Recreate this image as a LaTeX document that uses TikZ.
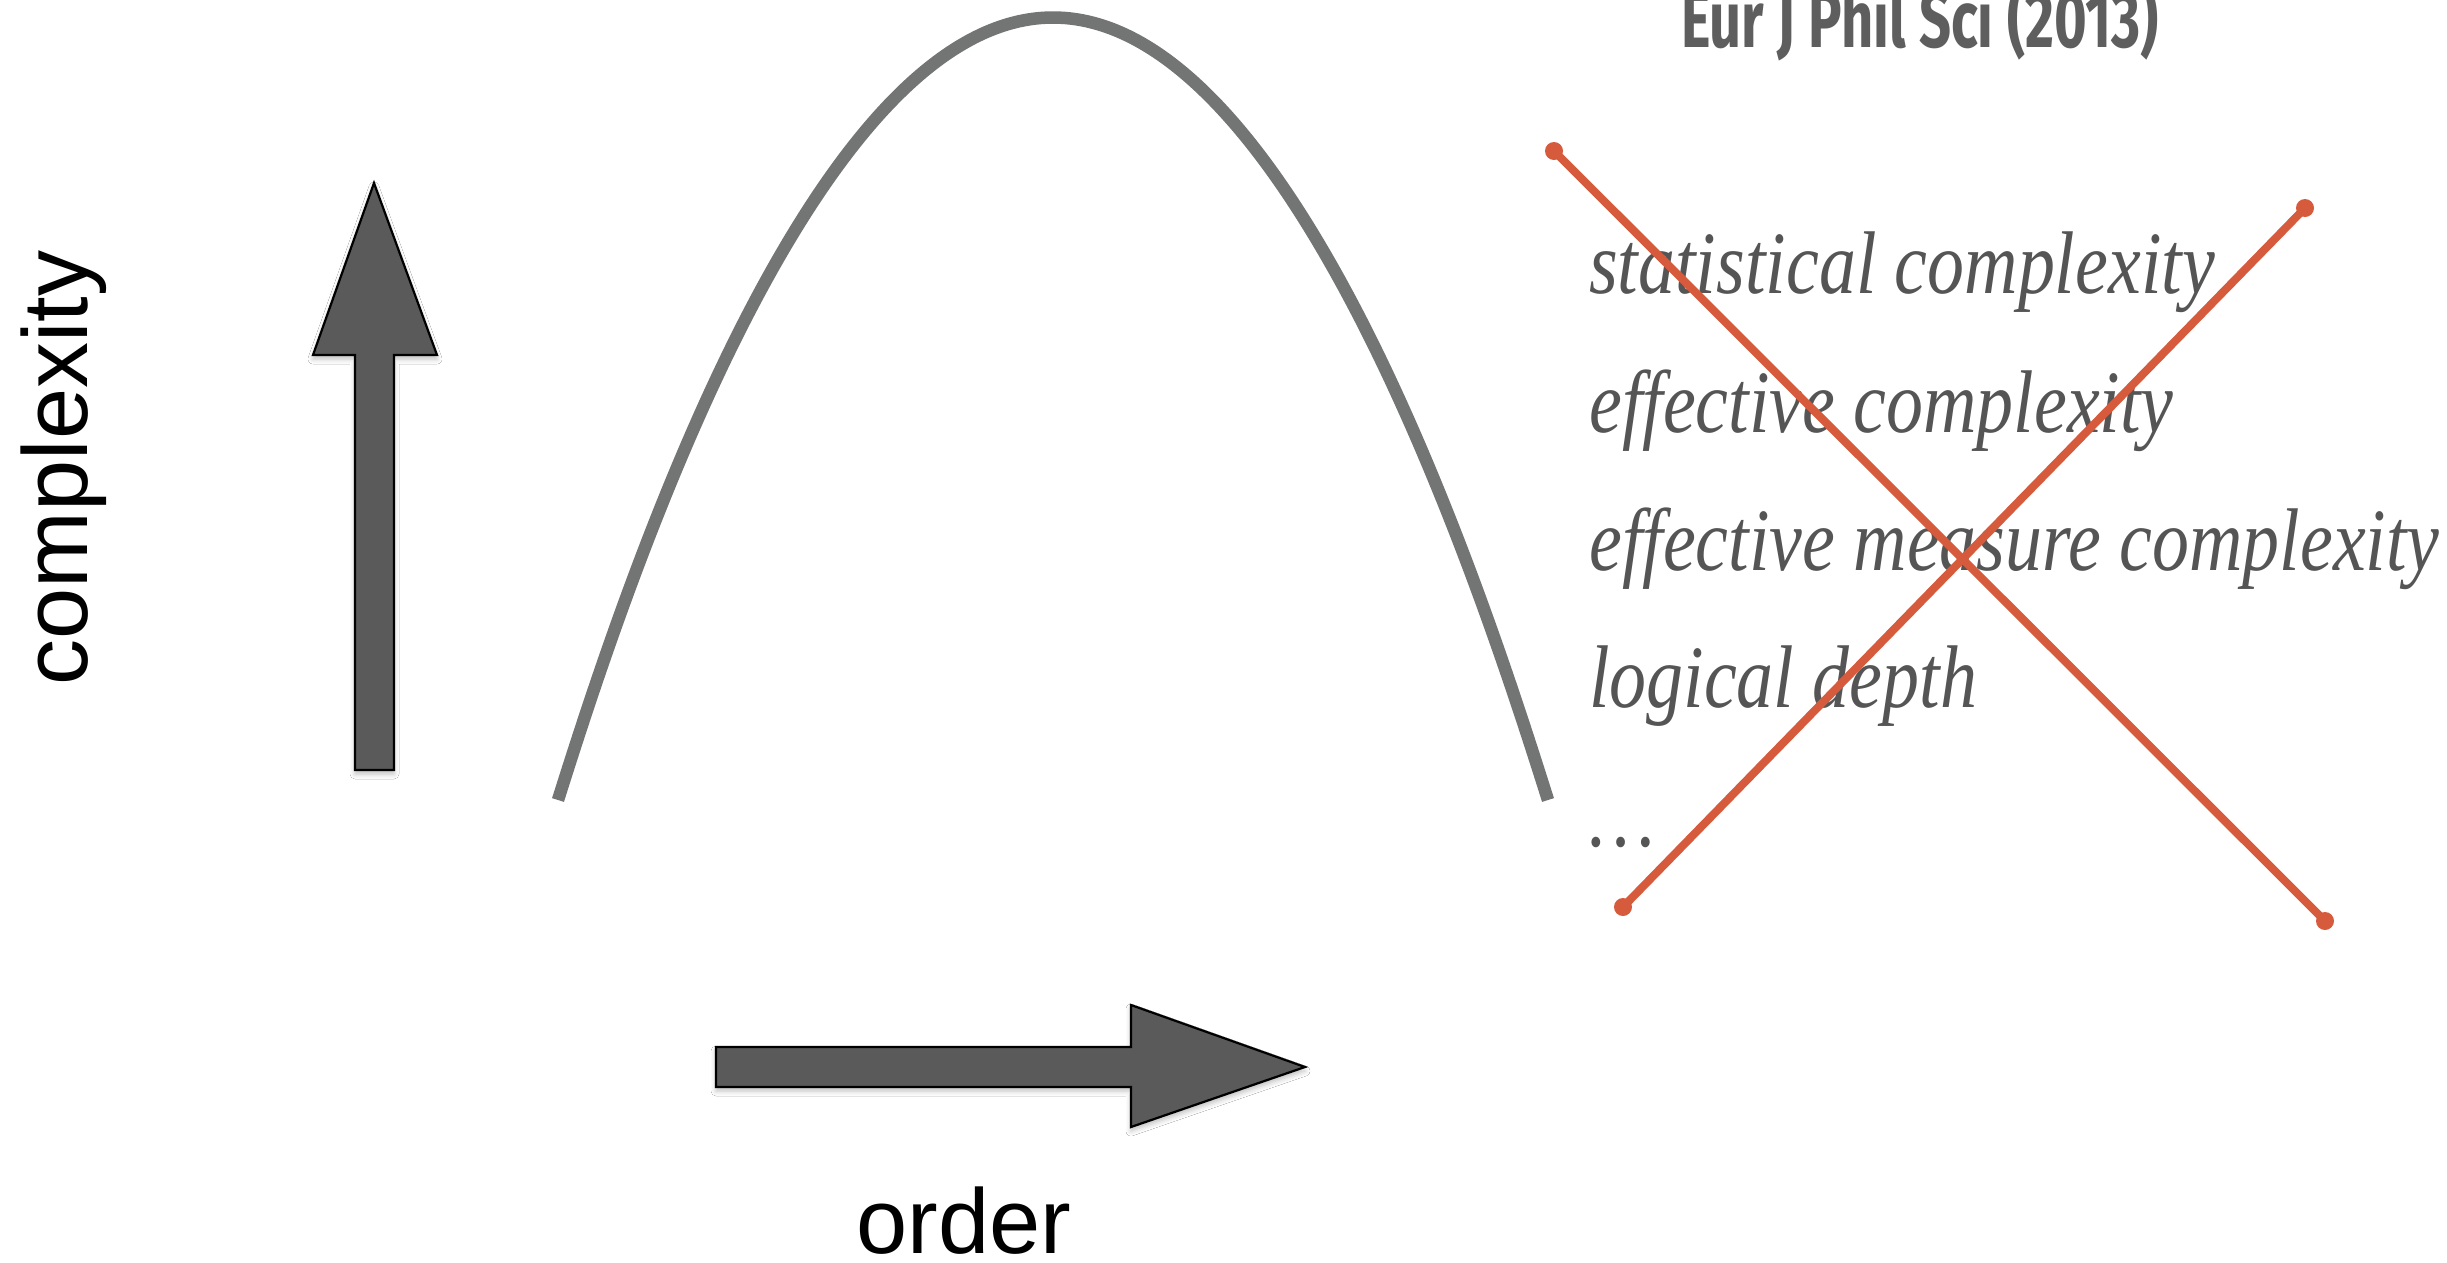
\documentclass[tikz,border=0pt]{standalone}
\usepackage{fontspec}
\setmainfont{Liberation Serif}
\newfontfamily\labelfont{Liberation Sans}
\newfontfamily\itfont[FakeStretch=0.83]{Liberation Serif}
\newfontfamily\condfont[FakeStretch=0.7]{Fira Sans}
\usetikzlibrary{shadows.blur}
\definecolor{arrowfill}{HTML}{5A5A5A}
\definecolor{curvegray}{HTML}{737574}
\definecolor{textgray}{HTML}{555555}
\definecolor{journalgray}{HTML}{5E5E5E}
\definecolor{crossred}{HTML}{D65A3C}
\begin{document}
\begin{tikzpicture}[x=1pt,y=-1pt,
  fatarrow/.style={fill=arrowfill,draw=black,line width=2.2pt,line join=miter,
    blur shadow={shadow xshift=0pt,shadow yshift=-4pt,shadow blur radius=5pt,shadow opacity=25}},
  humpline/.style={draw=curvegray,line width=12.5pt},
  crossline/.style={draw=crossred,line width=8pt,line cap=round},
  termtext/.style={text=textgray,font=\itfont\itshape\fontsize{89}{100}\selectfont,anchor=base west,inner sep=0pt},
  axislabel/.style={font=\labelfont\fontsize{92}{100}\selectfont,inner sep=0pt,text=black},
]
\useasboundingbox (0,0) rectangle (2447,1262);
\fill[white] (0,0) rectangle (2447,1262);

% vertical block arrow
\path[fatarrow] (374,183) -- (437,355) -- (394,355) -- (394,770) -- (355,770) -- (355,355) -- (313,355) -- cycle;
% horizontal block arrow
\path[fatarrow] (716,1047) -- (1131,1047) -- (1131,1005) -- (1305,1067) -- (1131,1127) -- (1131,1087) -- (716,1087) -- cycle;

% hump curve
\coordinate (cl) at (558,800);
\coordinate (cr) at (1548,800);
\draw[humpline] (cl) parabola bend (1053,17.5) (cr);

% axis labels
\node[axislabel,rotate=90,anchor=base] (ylab) at (87,468) {complexity};
\node[axislabel,anchor=base] (xlab) at (964,1253) {order};

% journal
\node[font=\condfont\bfseries\fontsize{80}{90}\selectfont,text=journalgray,anchor=base west,inner sep=0pt] (jr) at (1681,47) {Eur J Phil Sci (2013)};

% list of measures
\node[termtext] (t1) at (1589,293) {statistical complexity};
\node[termtext] (t2) at (1589,432) {effective complexity};
\node[termtext] (t3) at (1589,570) {effective measure complexity};
\node[termtext] (t4) at (1589,707) {logical depth};
\node[termtext] (t5) at (1589,846) {…};

% red cross
\coordinate (xa1) at (1554,151);
\coordinate (xa2) at (2325,921);
\coordinate (xb1) at (2305,208);
\coordinate (xb2) at (1623,907);
\draw[crossline] (xa1) -- (xa2);
\draw[crossline] (xb1) -- (xb2);
\foreach \p in {xa1,xa2,xb1,xb2} \fill[crossred] (\p) circle (9);
\end{tikzpicture}
\end{document}
